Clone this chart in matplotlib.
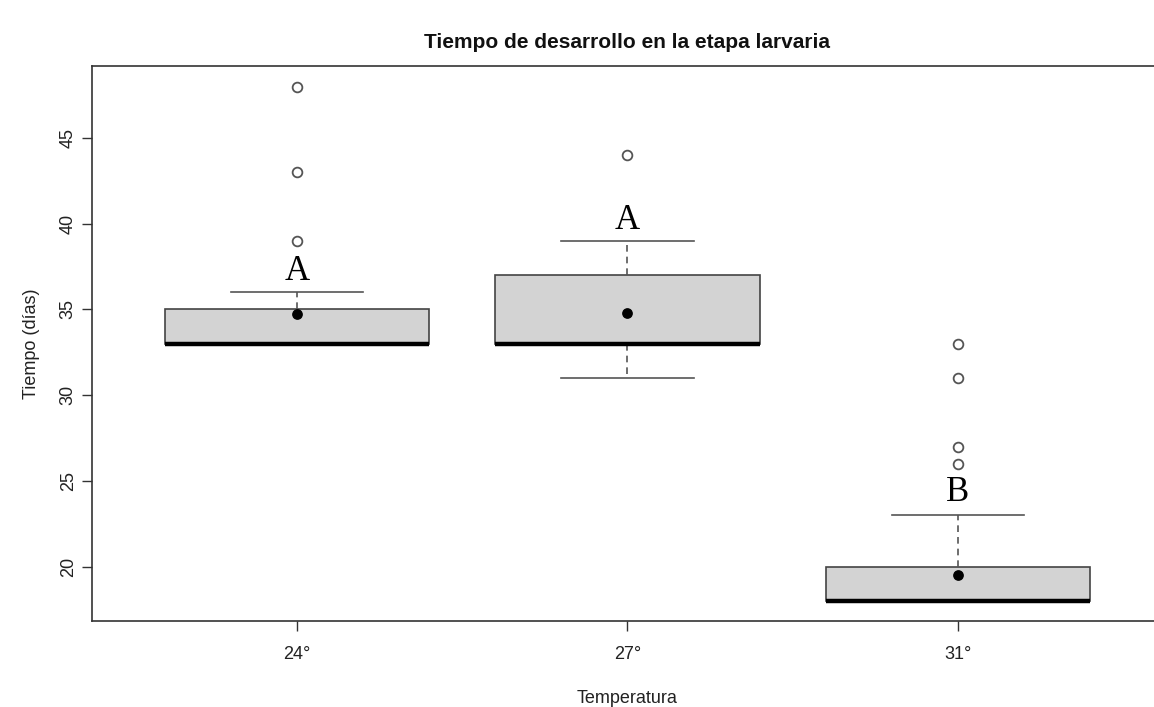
import matplotlib
matplotlib.use("Agg")
import matplotlib.pyplot as plt

# -------------------- Data --------------------
categories = ["24°", "27°", "31°"]
q1 = [33, 33, 18]
medians = [33, 33, 18]
q3 = [35, 37, 20]
whisker_low = [33, 31, 18]
whisker_high = [36, 39, 23]
means = [34.75, 34.8, 19.5]
outliers = [[39, 43, 48], [44], [26, 27, 31, 33]]
letters = ["A", "A", "B"]
letter_y = [37.2, 40.2, 24.3]

# -------------------- Plot --------------------
plt.rcParams['font.family'] = ['Liberation Sans', 'DejaVu Sans']

fig = plt.figure(figsize=(11.54, 7.07), dpi=100)
ax = fig.add_axes([0.0797, 0.121, 0.928, 0.7855])

stats = []
for i in range(len(categories)):
    stats.append({
        "q1": q1[i], "med": medians[i], "q3": q3[i],
        "whislo": whisker_low[i], "whishi": whisker_high[i],
        "fliers": outliers[i], "label": categories[i],
    })

positions = list(range(1, len(categories) + 1))
ax.bxp(stats, positions=positions, widths=0.8, patch_artist=True,
       showfliers=True,
       boxprops=dict(facecolor="#d3d3d3", edgecolor="#444444", linewidth=1.2),
       medianprops=dict(color="black", linewidth=3.2, solid_capstyle="butt"),
       whiskerprops=dict(color="#555555", linewidth=1.2, linestyle=(0, (4, 3))),
       capprops=dict(color="#555555", linewidth=1.2),
       capwidths=0.4,
       flierprops=dict(marker="o", markerfacecolor="white", markeredgecolor="#555555",
                       markersize=7, markeredgewidth=1.3, linestyle="none"))

ax.scatter(positions, means, s=45, color="black", zorder=5)

for p, lab, ly in zip(positions, letters, letter_y):
    ax.text(p, ly, lab, ha="center", va="center", fontsize=25,
            family=["Liberation Serif", "DejaVu Serif"], color="black", zorder=6)

ax.set_xlim(0.38, 3.62)
ax.set_ylim(16.8, 49.2)
ax.set_yticks([20, 25, 30, 35, 40, 45])
ax.set_xticks(positions)
ax.set_xticklabels(categories)

for s in ax.spines.values():
    s.set_color("#333333")
    s.set_linewidth(1.2)

ax.tick_params(axis="y", length=7, width=1, color="#333333", labelsize=13,
               labelcolor="#222222", pad=4, labelrotation=90)
ax.tick_params(axis="x", length=7, width=1, color="#333333", labelsize=13,
               labelcolor="#222222", pad=11)
for lbl in ax.get_yticklabels():
    lbl.set_va("center")

ax.set_xlabel("Temperatura", fontsize=13, color="#222222", labelpad=19)
ax.set_ylabel("Tiempo (días)", fontsize=13, color="#222222", labelpad=14)
ax.set_title("Tiempo de desarrollo en la etapa larvaria", fontsize=15,
             fontweight="bold", color="#111111", pad=13, x=(627 - 92) / (1163 - 92))

fig.savefig("out.png", dpi=100)
